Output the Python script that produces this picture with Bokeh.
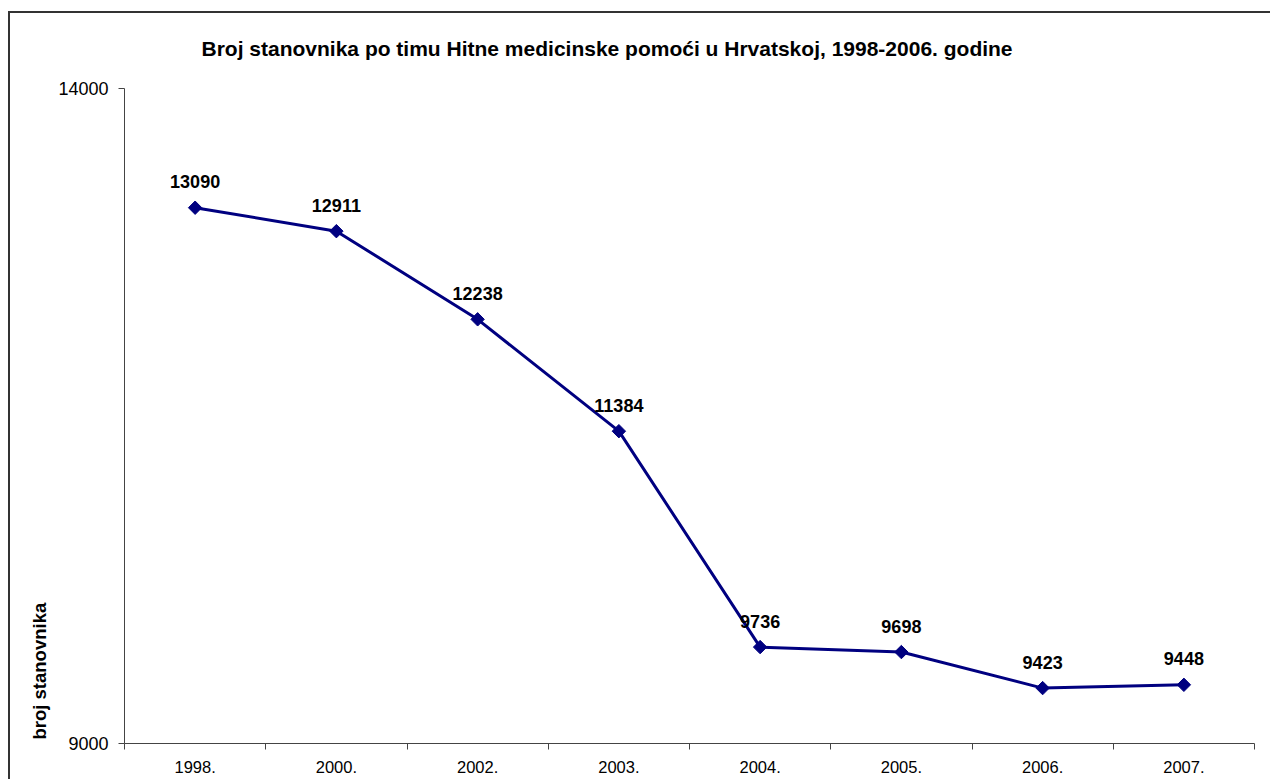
import math
from bokeh.plotting import figure
from bokeh.models import FixedTicker, Range1d, ColumnDataSource, Title
from bokeh.core.properties import value
from bokeh.embed import file_html
from bokeh.resources import INLINE

years = ["1998.", "2000.", "2002.", "2003.", "2004.", "2005.", "2006.", "2007."]
population_per_team = [13090, 12911, 12238, 11384, 9736, 9698, 9423, 9448]
y_ticks = [9000, 14000]
title_text = "Broj stanovnika po timu Hitne medicinske pomoći u Hrvatskoj, 1998-2006. godine"
y_label_text = "broj stanovnika"

FONT = "Liberation Sans"
NAVY = "#000080"

xpos = [i + 0.5 for i in range(len(years))]
src = ColumnDataSource(dict(x=xpos, y=population_per_team,
                            lbl=[str(v) for v in population_per_team]))

p = figure(width=1270, height=779, output_backend="svg", toolbar_location=None,
           x_range=Range1d(0, len(years)), y_range=Range1d(y_ticks[0], y_ticks[-1]),
           min_border_left=124, min_border_right=16, min_border_top=88, min_border_bottom=36)
p.outline_line_color = None
p.grid.visible = False
p.background_fill_color = "white"
p.border_fill_color = None
p.styles = {
    "background-color": "white",
    "background-image": "linear-gradient(#333333, #333333), linear-gradient(#333333, #333333)",
    "background-size": "100% 2px, 2px 100%",
    "background-position": "8px 11px, 8px 11px",
    "background-repeat": "no-repeat",
}

# x axis: labels at category centres, tick marks at boundaries
xa = p.xaxis[0]
xa.ticker = FixedTicker(ticks=xpos, minor_ticks=list(range(len(years) + 1)))
xa.major_label_overrides = {x: y for x, y in zip(xpos, years)}
xa.major_tick_line_color = None
xa.major_tick_out = 0
xa.major_tick_in = 0
xa.minor_tick_out = 6
xa.minor_tick_in = 0
xa.minor_tick_line_color = "#444444"
xa.axis_line_color = "#444444"
xa.major_label_text_font = FONT
xa.major_label_text_font_size = "16.5px"
xa.major_label_text_color = "black"
xa.major_label_standoff = 11

ya = p.yaxis[0]
ya.ticker = FixedTicker(ticks=y_ticks, minor_ticks=[])
ya.major_tick_out = 6
ya.major_tick_in = 0
ya.major_tick_line_color = "#444444"
ya.axis_line_color = "#444444"
ya.major_label_text_font = FONT
ya.major_label_text_font_size = "18px"
ya.major_label_text_color = "black"
ya.major_label_standoff = 10

p.line("x", "y", source=src, line_color=NAVY, line_width=3)
p.scatter("x", "y", source=src, marker="square", angle=math.pi / 4, size=9.5,
          fill_color=NAVY, line_color=NAVY)
p.text("x", "y", text="lbl", source=src, text_font=value(FONT), text_font_style="bold",
       text_font_size="18px", text_align="center", text_baseline="alphabetic",
       y_offset=-26, text_color="black")

p.add_layout(Title(text=title_text, align="left", offset=77, standoff=58,
                   text_font=FONT, text_font_style="bold", text_font_size="21px",
                   text_color="black"), "above")
p.add_layout(Title(text=y_label_text, align="left", offset=4, standoff=11,
                   text_font=FONT, text_font_style="bold", text_font_size="18.5px",
                   text_color="black"), "left")

open("out.html", "w").write(file_html(p, INLINE))
